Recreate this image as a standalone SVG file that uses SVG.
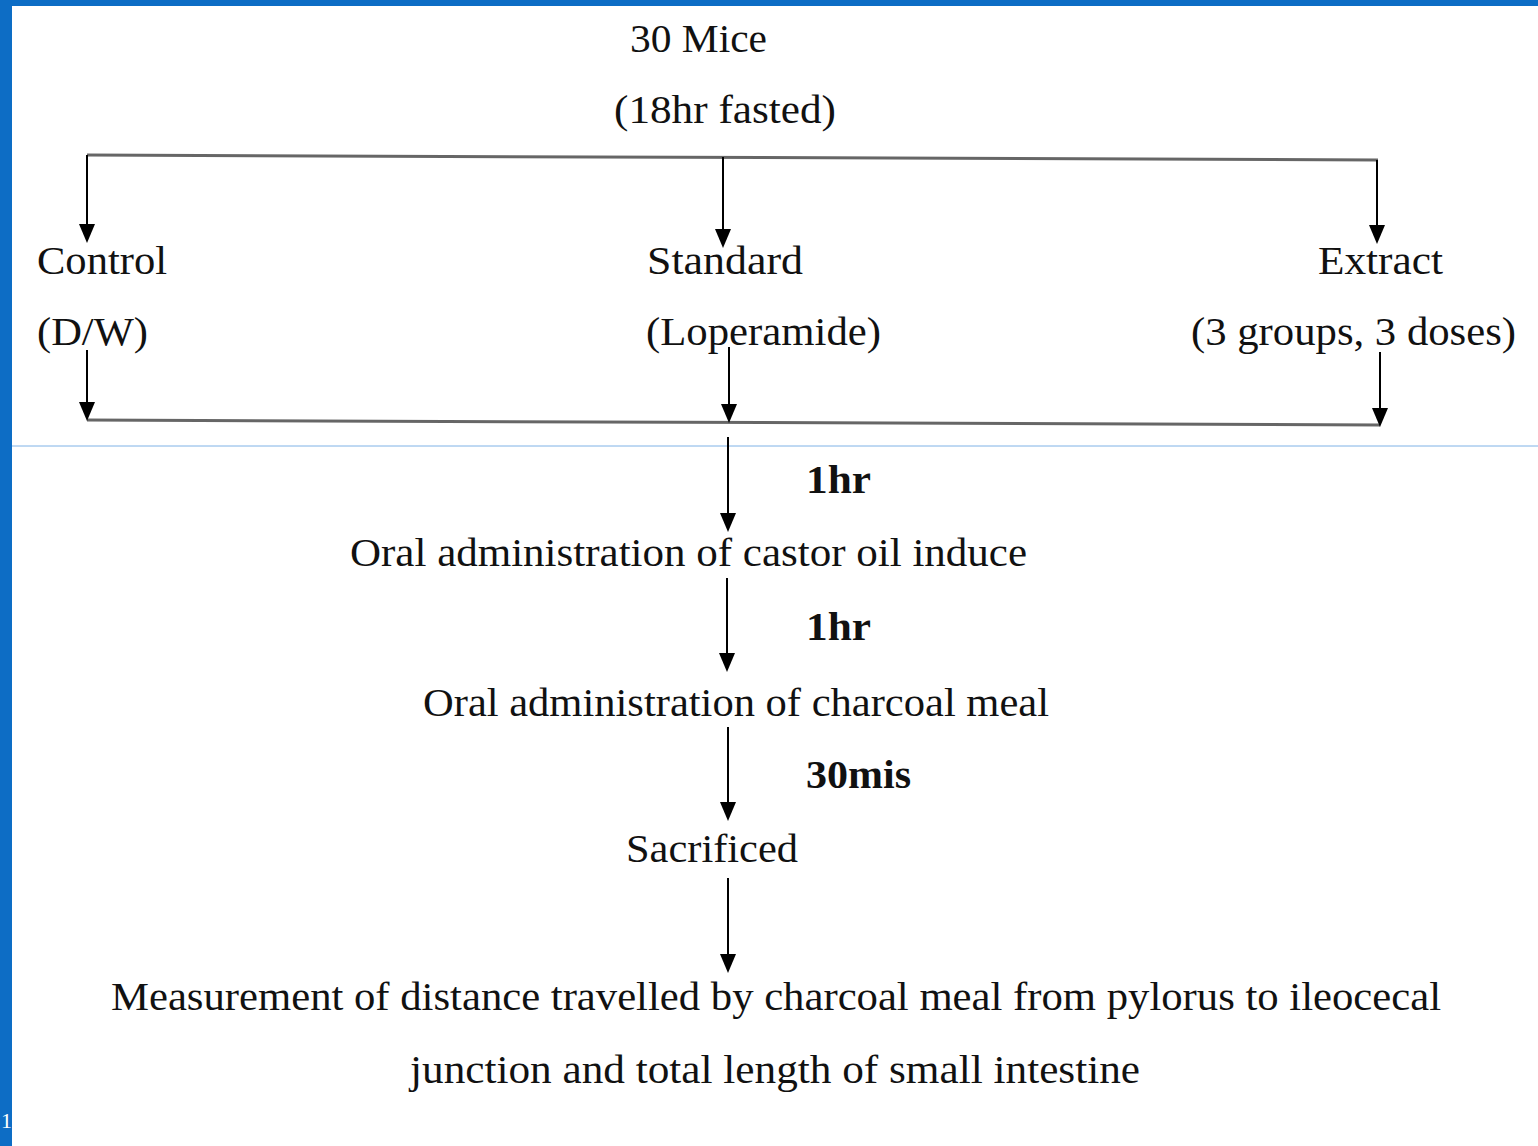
<svg xmlns="http://www.w3.org/2000/svg" width="1538" height="1146" viewBox="0 0 1538 1146">
<style>
.t{font-family:"Liberation Serif","Times New Roman",serif;font-size:40px;fill:#111}
.b{font-weight:bold}
.v{stroke:#000;stroke-width:2;fill:none}
.h{stroke:#666;stroke-width:3;fill:none}
</style>
<defs>
<path id="ah" d="M-8,-19 L8,-19 L0,0 Z" fill="#000"/>
</defs>
<rect x="0" y="0" width="1538" height="1146" fill="#fff"/>
<rect x="0" y="0" width="1538" height="6" fill="#0d6dc5"/>
<rect x="0" y="0" width="12" height="1146" fill="#0d6dc5"/>
<text x="1" y="1128" style="font-family:'Liberation Serif',serif;font-size:22px;fill:#fff">1</text>
<line x1="12" y1="446" x2="1538" y2="446" stroke="#7fb2e6" stroke-width="1"/>

<g id="connectors">
<path class="h" d="M87,155 L1378,160"/>
<path class="h" d="M87,420 L1380,425"/>
<line class="v" x1="87" y1="155" x2="87" y2="235"/>
<line class="v" x1="723" y1="157" x2="723" y2="240"/>
<line class="v" x1="1377" y1="160" x2="1377" y2="236"/>
<line class="v" x1="87" y1="350" x2="87" y2="413"/>
<line class="v" x1="729" y1="347" x2="729" y2="415"/>
<line class="v" x1="1380" y1="352" x2="1380" y2="419"/>
<line class="v" x1="728" y1="437" x2="728" y2="524"/>
<line class="v" x1="727" y1="578" x2="727" y2="664"/>
<line class="v" x1="728" y1="727" x2="728" y2="813"/>
<line class="v" x1="728" y1="878" x2="728" y2="965"/>
<use href="#ah" x="87" y="243"/>
<use href="#ah" x="723" y="248"/>
<use href="#ah" x="1377" y="244"/>
<use href="#ah" x="87" y="421"/>
<use href="#ah" x="729" y="423"/>
<use href="#ah" x="1380" y="427"/>
<use href="#ah" x="728" y="532"/>
<use href="#ah" x="727" y="672"/>
<use href="#ah" x="728" y="821"/>
<use href="#ah" x="728" y="973"/>
</g>

<g id="mice"><text class="t" x="630" y="52" textLength="137" lengthAdjust="spacingAndGlyphs">30 Mice</text>
<text class="t" x="614" y="123" textLength="222" lengthAdjust="spacingAndGlyphs">(18hr fasted)</text></g>
<g id="control"><text class="t" x="37" y="274" textLength="130" lengthAdjust="spacingAndGlyphs">Control</text>
<text class="t" x="37" y="345" textLength="111" lengthAdjust="spacingAndGlyphs">(D/W)</text></g>
<g id="standard"><text class="t" x="647" y="274" textLength="156" lengthAdjust="spacingAndGlyphs">Standard</text>
<text class="t" x="646" y="345" textLength="235" lengthAdjust="spacingAndGlyphs">(Loperamide)</text></g>
<g id="extract"><text class="t" x="1318" y="274" textLength="125" lengthAdjust="spacingAndGlyphs">Extract</text>
<text class="t" x="1191" y="345" textLength="325" lengthAdjust="spacingAndGlyphs">(3 groups, 3 doses)</text></g>
<g id="label1"><text class="t b" x="806" y="493" textLength="65" lengthAdjust="spacingAndGlyphs">1hr</text></g>
<g id="castor"><text class="t" x="350" y="566" textLength="677" lengthAdjust="spacingAndGlyphs">Oral administration of castor oil induce</text></g>
<g id="label2"><text class="t b" x="806" y="640" textLength="65" lengthAdjust="spacingAndGlyphs">1hr</text></g>
<g id="charcoal"><text class="t" x="423" y="716" textLength="626" lengthAdjust="spacingAndGlyphs">Oral administration of charcoal meal</text></g>
<g id="label3"><text class="t b" x="806" y="788" textLength="105" lengthAdjust="spacingAndGlyphs">30mis</text></g>
<g id="sacrificed"><text class="t" x="626" y="862" textLength="172" lengthAdjust="spacingAndGlyphs">Sacrificed</text></g>
<g id="measurement"><text class="t" x="111" y="1010" textLength="1330" lengthAdjust="spacingAndGlyphs">Measurement of distance travelled by charcoal meal from pylorus to ileocecal</text>
<text class="t" x="410" y="1083" textLength="730" lengthAdjust="spacingAndGlyphs">junction and total length of small intestine</text></g>
</svg>
